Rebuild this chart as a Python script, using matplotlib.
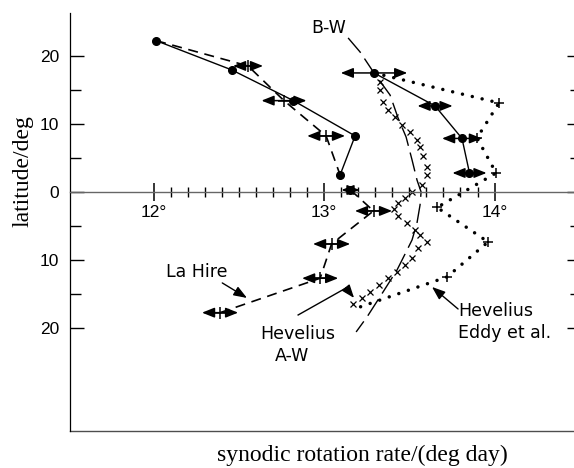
import matplotlib.pyplot as plt

plt.rcParams['savefig.bbox'] = 'standard'

# solid line through dots, left branch (north)
sol_l_rate = [12.015, 12.459, 12.820, 13.182, 13.094]
sol_l_lat = [22.25, 17.94, 13.43, 8.24, 2.50]

# solid line through dots with error arrows, right branch (north)
sol_r_rate = [13.293, 13.651, 13.809, 13.853]
sol_r_lat = [17.5, 12.65, 7.87, 2.79]
sol_r_err = [0.195, 0.103, 0.117, 0.100]

# La Hire, dashed with error arrows
lh_n_rate = [12.015, 12.554, 12.765, 13.012, 13.094]
lh_n_lat = [22.25, 18.53, 13.43, 8.24, 2.50]
lh_n_err = [0, 0.088, 0.132, 0.111, 0]
lh_s_rate = [13.155, 13.290, 13.044, 12.977, 12.390]
lh_s_lat = [0.29, -2.79, -7.65, -12.69, -17.75]
lh_s_err = [0.053, 0.109, 0.109, 0.106, 0.106]

# Hevelius, Eddy et al. (dotted)
ed_rate = [13.293, 14.026, 13.897, 14.009, 13.663, 13.962, 13.721, 13.211]
ed_lat = [17.5, 13.09, 7.94, 2.79, -2.28, -7.35, -12.5, -16.91]

# Hevelius, A-W (crosses)
aw_rate = [13.328, 13.328, 13.346, 13.375, 13.416, 13.457, 13.504, 13.545,
           13.563, 13.581, 13.604, 13.604, 13.575, 13.516, 13.475, 13.434,
           13.411, 13.434, 13.487, 13.534, 13.563, 13.604, 13.551, 13.516,
           13.475, 13.428, 13.375, 13.323, 13.270, 13.223, 13.170]
aw_lat = [16.18, 15.0, 13.24, 12.06, 11.03, 9.85, 8.82, 7.65,
          6.62, 5.29, 3.68, 2.5, 1.03, 0.0, -0.88, -1.62,
          -2.5, -3.53, -4.56, -5.59, -6.32, -7.35, -8.24, -9.71,
          -10.74, -11.76, -12.65, -13.68, -14.71, -15.59, -16.47]

# B-W curve
bw_rate = [13.141, 13.211, 13.293, 13.387, 13.434, 13.481, 13.516, 13.545,
           13.569, 13.563, 13.545, 13.516, 13.487, 13.428, 13.346, 13.252, 13.188]
bw_lat = [22.65, 20.59, 17.5, 14.26, 10.88, 8.09, 4.71, 1.76,
          0.0, -1.91, -4.56, -7.06, -8.53, -11.47, -14.71, -18.38, -20.59]

xmajor = [12, 13, 14]
xmajor_labels = ['12°', '13°', '14°']
xminor = [12 + i / 10 for i in range(1, 20) if i != 10]
ymajor = [-20, -10, 0, 10, 20]
ymajor_labels = ['20', '10', '0', '10', '20']
yminor = [-15, -5, 5, 15]

tick_font = 'Liberation Sans'
label_font = ['Liberation Serif', 'DejaVu Serif']


def arrows(ax, xs, ys, errs):
    for x, y, e in zip(xs, ys, errs):
        if e > 0:
            ax.annotate('', xy=(x + e, y), xytext=(x - e, y),
                        arrowprops=dict(arrowstyle='<|-|>,head_length=0.75,head_width=0.3',
                                        color='k', lw=1.1, shrinkA=0, shrinkB=0,
                                        mutation_scale=10), zorder=5)


fig = plt.figure(figsize=(5.74, 4.68), dpi=100)
ax = fig.add_axes([0.1220, 0.0791, 0.8902, 0.8932])
ax.set_xlim(11.510, 14.507)
ax.set_ylim(-35.15, 26.32)

ax.spines['top'].set_visible(False)
ax.spines['right'].set_visible(False)
ax.spines['bottom'].set_position(('data', 0))
ax.spines['bottom'].set_color('0.4')
ax.spines['bottom'].set_linewidth(1.0)
ax.spines['left'].set_linewidth(0.9)
ax.axhline(ax.get_ylim()[0], color='0.3', lw=1.0, clip_on=False)

ax.set_xticks(xmajor)
ax.set_xticklabels(xmajor_labels, family=tick_font)
ax.set_xticks(xminor, minor=True)
ax.tick_params(axis='x', which='major', direction='inout', length=13.5, width=1.1,
               pad=2.5, labelsize=12.5)
ax.tick_params(axis='x', which='minor', direction='inout', length=6.5, width=1.0)

ax.set_yticks(ymajor)
ax.set_yticklabels(ymajor_labels, family=tick_font)
ax.set_yticks(yminor, minor=True)
ax.tick_params(axis='y', which='both', direction='in', left=True, right=True,
               width=1.0, labelsize=12.5, pad=8)
ax.tick_params(axis='y', which='major', length=10)
ax.tick_params(axis='y', which='minor', length=8)

# B-W curve
ax.plot(bw_rate, bw_lat, color='k', lw=1.0, dashes=(14, 5))
# A-W crosses
ax.plot(aw_rate, aw_lat, ls='none', marker='x', ms=5, mew=0.9, color='k')
# Eddy et al. dotted
ax.plot(ed_rate, ed_lat, color='k', lw=2.5, ls=(0, (0.01, 2.9)), dash_capstyle='round')
ax.plot(ed_rate[1:7], ed_lat[1:7], ls='none', marker='+', ms=7, mew=1.1, color='k')

# solid series
ax.plot(sol_l_rate, sol_l_lat, 'k-', lw=1.0, marker='o', ms=5.5)
ax.plot(sol_r_rate, sol_r_lat, 'k-', lw=1.0, marker='o', ms=5.5, zorder=4)
arrows(ax, sol_r_rate, sol_r_lat, sol_r_err)

# La Hire dashed
ax.plot(lh_n_rate, lh_n_lat, color='k', lw=1.2, dashes=(6, 4))
ax.plot(lh_s_rate, lh_s_lat, color='k', lw=1.2, dashes=(6, 4))
ax.plot(lh_n_rate[1:4], lh_n_lat[1:4], ls='none', marker='+', ms=8, mew=1.1, color='k')
ax.plot(lh_s_rate[1:], lh_s_lat[1:], ls='none', marker='+', ms=8, mew=1.1, color='k')
ax.plot(lh_s_rate[:1], lh_s_lat[:1], ls='none', marker='o', ms=5.5, color='k')
arrows(ax, lh_n_rate, lh_n_lat, lh_n_err)
arrows(ax, lh_s_rate, lh_s_lat, lh_s_err)

# labels
tkw = dict(fontsize=12.5, family='DejaVu Sans', color='k')
ax.text(13.029, 24.12, 'B-W', ha='center', va='center', **tkw)
ax.text(12.255, -11.76, 'La Hire', ha='center', va='center', **tkw)
ax.text(12.848, -20.88, 'Hevelius', ha='center', va='center', **tkw)
ax.text(12.812, -24.12, 'A-W', ha='center', va='center', **tkw)
ax.text(13.786, -17.5, 'Hevelius', ha='left', va='center', **tkw)
ax.text(13.786, -20.74, 'Eddy et al.', ha='left', va='center', **tkw)

akw = dict(arrowstyle='-|>,head_length=0.8,head_width=0.3', color='k', lw=1.0,
           shrinkA=0, shrinkB=0, mutation_scale=10)
ax.annotate('', xy=(12.548, -15.59), xytext=(12.403, -13.38), arrowprops=akw)
ax.annotate('', xy=(13.633, -13.97), xytext=(13.786, -17.21), arrowprops=akw)
ax.plot([12.848, 13.129], [-18.09, -14.12], color='k', lw=1.0)
ax.annotate('', xy=(13.176, -15.59), xytext=(13.129, -14.12), arrowprops=akw)

ax.set_ylabel('latitude/deg', family=label_font, fontsize=17)
ax.yaxis.set_label_coords(-0.072, 0.622)
fig.text(362 / 574, 1 - 455 / 468, 'synodic rotation rate/(deg day)',
         ha='center', va='center', family=label_font, fontsize=17)

fig.savefig('out.png', dpi=100, bbox_inches=None)
